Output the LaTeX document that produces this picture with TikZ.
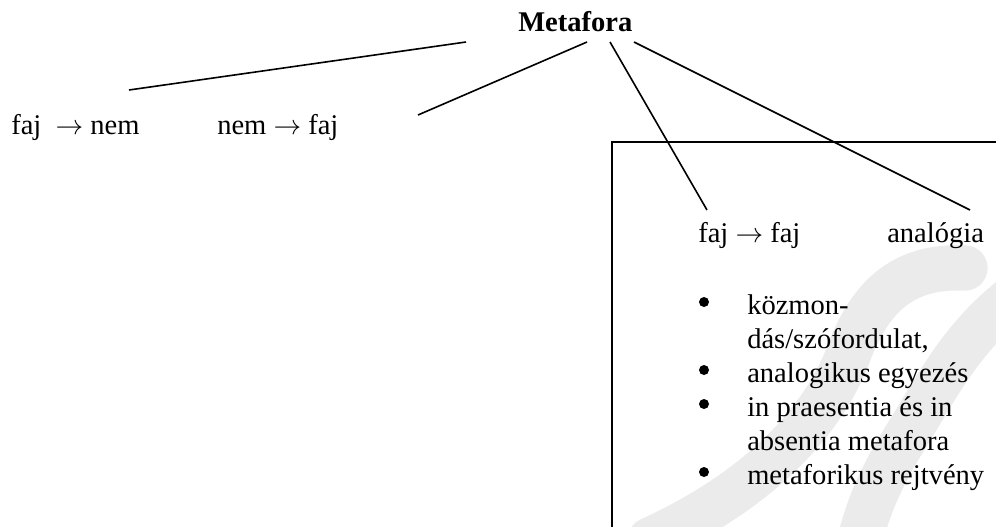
\documentclass[tikz,border=0pt]{standalone}
\usepackage{fontspec}
\setmainfont{Liberation Serif}
\usepackage{tikz}

\begin{document}
\begin{tikzpicture}[x=0.75pt,y=0.75pt,yscale=-1,xscale=1,
  lbl/.style={anchor=base west,inner sep=0pt,font=\fontsize{21.4}{25.5}\selectfont},
  conn/.style={line width=1.2pt},
  bul/.style={circle,fill=black,inner sep=0pt,minimum size=7.5pt},
  wmark/.style={line width=34pt,color=black!8,line cap=round}]
\useasboundingbox (0,0) rectangle (996,526);
\clip (0,0) rectangle (996,526);

%Watermark
\draw [wmark] (965,268) .. controls (900,265) and (870,300) .. (850,350) .. controls (825,420) and (760,490) .. (650,540) ;
\draw [wmark] (1010,300) .. controls (960,340) and (935,390) .. (910,430) .. controls (885,470) and (870,500) .. (860,540) ;

%Shape: Box
\draw [line width=1.6pt]  (612,540) -- (612,142) -- (1010,142) ;

% Text Node
\draw (518,31) node (meta) [lbl] {\bfseries Metafora};
% Text Node
\draw (11,134) node (fajnem) [lbl] {faj \ $\rightarrow$ nem};
% Text Node
\draw (217,134) node (nemfaj) [lbl] {nem $\rightarrow$ faj};
% Text Node
\draw (698,242) node (fajfaj) [lbl] {faj $\rightarrow$ faj};
% Text Node
\draw (887,242) node (anal) [lbl] {analógia};

% Bullets
\draw (704,302) node (b1) [bul] {};
\draw (704,370) node (b2) [bul] {};
\draw (704,404) node (b3) [bul] {};
\draw (704,472) node (b4) [bul] {};
% Text Node
\draw (747,314) node (i1a) [lbl] {közmon-};
\draw (747,348) node (i1b) [lbl] {dás/szófordulat,};
\draw (747,382) node (i2) [lbl] {analogikus egyezés};
\draw (747,416) node (i3a) [lbl] {in praesentia és in};
\draw (747,450) node (i3b) [lbl] {absentia metafora};
\draw (747,484) node (i4) [lbl] {metaforikus rejtvény};

%Straight Lines
\coordinate (m1) at (466,42);
\coordinate (m2) at (587,42);
\coordinate (m3) at (610,42);
\coordinate (m4) at (634,42);
\coordinate (e1) at (129,90);
\coordinate (e2) at (418,115);
\coordinate (e3) at (707,210);
\coordinate (e4) at (970,210);
\draw [conn] (m1) -- (e1) ;
\draw [conn] (m2) -- (e2) ;
\draw [conn] (m3) -- (e3) ;
\draw [conn] (m4) -- (e4) ;

\end{tikzpicture}
\end{document}
